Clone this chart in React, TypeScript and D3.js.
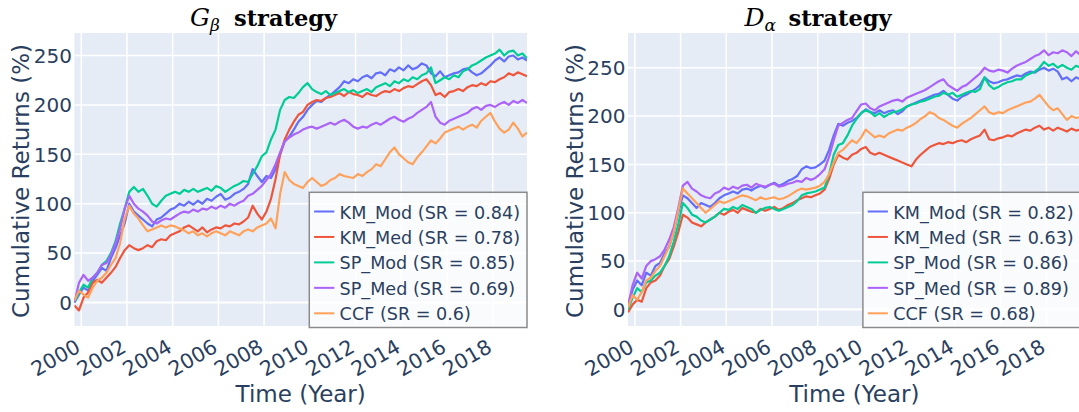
import React from 'react';
import * as d3 from 'd3';

// ---------- data ----------
const YEAR_START = 1999.7;
const YEAR_STEP = 0.2;
const xTickYears = [2000, 2002, 2004, 2006, 2008, 2010, 2012, 2014, 2016, 2018];
const yTickValues = [0, 50, 100, 150, 200, 250];

const seriesNames = ['KM_Mod', 'KM_Med', 'SP_Mod', 'SP_Med', 'CCF'];
const seriesColors = ['#636EFA', '#EF553B', '#00CC96', '#AB63FA', '#FFA15A'];
const gBetaSR = ['0.84', '0.78', '0.85', '0.69', '0.6'];
const dAlphaSR = ['0.82', '0.63', '0.86', '0.89', '0.68'];

// G_beta strategy
const gKMMod = [0, 8, 15, 12, 22, 28, 35, 32, 45, 55, 68, 80, 100, 92, 88, 84, 80, 77, 84, 86, 90, 94, 96, 100, 98, 102, 99, 103, 100, 105, 103, 107, 110, 104, 106, 110, 112, 115, 120, 135, 128, 122, 128, 126, 135, 150, 163, 168, 175, 183, 188, 195, 200, 204, 203, 207, 210, 214, 218, 224, 222, 226, 224, 228, 230, 227, 232, 233, 230, 236, 234, 238, 235, 240, 236, 238, 242, 240, 232, 229, 234, 228, 230, 232, 233, 236, 237, 233, 230, 232, 236, 240, 245, 248, 244, 249, 250, 246, 248, 245];
const gKMMed = [-3, -8, 5, 10, 20, 23, 20, 25, 30, 36, 45, 53, 58, 55, 53, 55, 58, 56, 62, 64, 63, 68, 70, 72, 76, 78, 75, 72, 76, 71, 74, 76, 75, 78, 77, 80, 79, 82, 86, 98, 90, 84, 92, 105, 125, 150, 165, 175, 183, 190, 193, 200, 203, 205, 204, 207, 208, 210, 212, 209, 213, 211, 210, 208, 212, 210, 209, 212, 214, 213, 216, 214, 217, 219, 218, 221, 224, 226, 220, 210, 212, 208, 213, 214, 216, 214, 218, 220, 219, 222, 220, 224, 223, 226, 228, 232, 230, 233, 231, 229];
const gSPMod = [0, 10, 18, 15, 25, 30, 38, 42, 50, 62, 80, 95, 112, 117, 112, 115, 108, 100, 97, 103, 108, 110, 112, 110, 114, 112, 115, 112, 114, 116, 113, 118, 116, 112, 115, 118, 120, 123, 122, 130, 138, 148, 152, 165, 175, 195, 205, 208, 207, 212, 218, 222, 216, 213, 211, 214, 210, 212, 214, 216, 213, 215, 212, 214, 216, 213, 218, 220, 222, 219, 224, 222, 226, 224, 228, 226, 230, 232, 238, 222, 225, 228, 226, 230, 228, 234, 236, 240, 242, 245, 248, 250, 252, 256, 250, 254, 255, 250, 252, 247];
const gSPMed = [0, 20, 28, 22, 25, 30, 38, 40, 48, 60, 75, 95, 108, 100, 95, 92, 88, 82, 80, 83, 85, 84, 87, 90, 92, 91, 94, 92, 95, 94, 97, 95, 98, 96, 100, 98, 101, 103, 108, 110, 114, 118, 124, 130, 140, 152, 163, 167, 170, 172, 175, 177, 178, 176, 178, 180, 182, 180, 183, 185, 182, 178, 176, 178, 177, 180, 182, 180, 183, 186, 188, 185, 183, 186, 188, 192, 195, 198, 203, 188, 182, 180, 184, 186, 188, 190, 192, 196, 198, 195, 199, 200, 198, 201, 203, 200, 204, 202, 205, 202];
const gCCF = [2, 12, 8, 5, 15, 22, 25, 30, 38, 45, 60, 85, 98, 90, 85, 78, 72, 74, 76, 78, 76, 78, 77, 75, 73, 70, 72, 68, 70, 67, 70, 72, 70, 68, 72, 70, 68, 72, 74, 72, 76, 78, 80, 85, 75, 110, 132, 124, 120, 118, 116, 122, 126, 122, 118, 120, 124, 126, 130, 128, 127, 126, 130, 128, 132, 135, 140, 138, 145, 152, 157, 150, 146, 142, 140, 147, 152, 158, 164, 161, 166, 172, 174, 176, 178, 175, 178, 180, 177, 184, 188, 192, 183, 176, 172, 175, 182, 176, 168, 172];

// D_alpha strategy
const dKMMod = [5, 20, 30, 25, 38, 35, 45, 48, 58, 65, 80, 100, 118, 115, 110, 105, 110, 108, 106, 110, 115, 118, 120, 122, 120, 124, 125, 123, 126, 128, 126, 129, 131, 128, 130, 133, 135, 138, 145, 148, 146, 147, 150, 154, 165, 180, 192, 190, 193, 195, 198, 203, 207, 204, 203, 206, 203, 205, 206, 202, 205, 210, 212, 214, 216, 218, 220, 222, 223, 226, 222, 218, 216, 220, 222, 225, 228, 232, 240, 236, 234, 235, 237, 238, 240, 242, 241, 244, 246, 245, 248, 250, 247, 249, 246, 238, 240, 236, 240, 238];
const dKMMed = [-3, 5, 10, 8, 22, 28, 30, 35, 45, 52, 65, 80, 98, 95, 90, 88, 86, 90, 93, 96, 100, 98, 101, 103, 100, 105, 103, 101, 100, 104, 102, 104, 106, 103, 105, 108, 110, 113, 115, 117, 116, 118, 120, 124, 135, 150, 160, 157, 155, 160, 162, 166, 168, 162, 160, 162, 160, 158, 156, 154, 152, 150, 148, 155, 160, 164, 168, 170, 172, 171, 173, 172, 174, 175, 173, 176, 178, 180, 186, 176, 175, 177, 178, 180, 179, 182, 184, 186, 185, 188, 190, 186, 188, 185, 188, 186, 184, 187, 185, 186];
const dSPMod = [0, 12, 22, 18, 28, 30, 35, 38, 45, 55, 70, 88, 110, 105, 98, 96, 92, 90, 93, 96, 100, 104, 103, 106, 104, 108, 106, 104, 100, 103, 105, 106, 104, 102, 104, 106, 108, 112, 118, 120, 121, 122, 124, 126, 140, 160, 170, 172, 180, 190, 197, 203, 206, 204, 200, 203, 199, 202, 204, 205, 207, 210, 212, 213, 215, 216, 218, 220, 221, 224, 222, 224, 220, 222, 224, 226, 225, 228, 240, 232, 228, 230, 233, 235, 236, 238, 238, 242, 244, 246, 250, 256, 252, 254, 250, 253, 250, 248, 252, 250];
const dSPMed = [3, 25, 38, 32, 45, 50, 52, 55, 62, 72, 85, 105, 128, 132, 125, 122, 118, 116, 115, 120, 122, 126, 124, 127, 125, 128, 129, 126, 130, 128, 127, 129, 130, 127, 128, 130, 131, 133, 132, 136, 134, 136, 140, 145, 158, 175, 190, 193, 196, 198, 205, 212, 213, 208, 206, 210, 212, 214, 216, 217, 215, 219, 221, 223, 225, 227, 230, 233, 236, 238, 232, 229, 226, 230, 232, 236, 240, 244, 250, 247, 246, 248, 247, 245, 249, 252, 254, 256, 259, 262, 264, 268, 263, 266, 265, 268, 266, 262, 267, 263];
const dCCF = [2, 15, 10, 18, 30, 33, 40, 45, 55, 65, 80, 102, 125, 120, 115, 110, 105, 100, 104, 108, 112, 110, 112, 114, 116, 118, 117, 115, 113, 116, 114, 115, 116, 114, 115, 117, 120, 123, 125, 124, 125, 126, 128, 132, 140, 152, 162, 165, 170, 175, 172, 178, 186, 182, 178, 180, 178, 182, 184, 186, 185, 188, 190, 193, 197, 200, 204, 202, 198, 196, 193, 190, 188, 192, 195, 198, 202, 206, 210, 204, 202, 204, 203, 206, 208, 210, 212, 214, 215, 218, 222, 216, 210, 206, 208, 202, 196, 200, 198, 199];

const gBetaSeries = [gKMMod, gKMMed, gSPMod, gSPMed, gCCF];
const dAlphaSeries = [dKMMod, dKMMed, dSPMod, dSPMed, dCCF];

// ---------- layout ----------
const W = 1079;
const H = 412;
const PLOT_TOP = 33;
const PLOT_BOTTOM = 326;
const TEXT = '#2a3f5f';
const SANS = '"DejaVu Sans", sans-serif';

interface PanelProps {
  id: string;
  left: number;
  right: number;
  yDomain: [number, number];
  series: number[][];
  sr: string[];
  titleMain: string;
  titleSub: string;
  titleX: number;
}

function Panel({ id, left, right, yDomain, series, sr, titleMain, titleSub, titleX }: PanelProps) {
  const x = d3.scaleLinear().domain([YEAR_START, YEAR_START + YEAR_STEP * (series[0].length - 1)]).range([left, right]);
  const y = d3.scaleLinear().domain(yDomain).range([PLOT_BOTTOM, PLOT_TOP]);
  const line = d3
    .line<number>()
    .x((_, i) => x(YEAR_START + i * YEAR_STEP))
    .y((d) => y(d));
  const width = right - left;
  const legendW = 217.7;
  const legendX = right - legendW;
  const legendY = 192.3;
  const legendH = PLOT_BOTTOM + 1.5 - legendY;
  const rowGap = 25.45;
  const firstBaseline = 218.5;
  return (
    <g>
      <defs>
        <clipPath id={`clip-${id}`}>
          <rect x={left} y={PLOT_TOP} width={width} height={PLOT_BOTTOM - PLOT_TOP} />
        </clipPath>
      </defs>
      <rect x={left} y={PLOT_TOP} width={width} height={PLOT_BOTTOM - PLOT_TOP} fill="#E5ECF6" />
      {xTickYears.map((t) => (
        <line key={`gx${t}`} x1={x(t)} x2={x(t)} y1={PLOT_TOP} y2={PLOT_BOTTOM} stroke="#fff" strokeWidth={1.5} />
      ))}
      {yTickValues.map((v) => (
        <line key={`gy${v}`} x1={left} x2={right} y1={y(v)} y2={y(v)} stroke="#fff" strokeWidth={v === 0 ? 2.2 : 1.5} />
      ))}
      <g clipPath={`url(#clip-${id})`}>
        {series.map((s, k) => (
          <path key={k} d={line(s) || ''} fill="none" stroke={seriesColors[k]} strokeWidth={2.2} strokeLinejoin="round" />
        ))}
      </g>
      {/* y ticks */}
      {yTickValues.map((v) => (
        <text key={`ty${v}`} x={left - 2.5} y={y(v)} dy="0.36em" textAnchor="end" fontFamily={SANS} fontSize={20} fill={TEXT}>
          {v}
        </text>
      ))}
      {/* x ticks */}
      {xTickYears.map((t) => (
        <text
          key={`tx${t}`}
          transform={`translate(${x(t) + 0.5},${351}) rotate(-30)`}
          textAnchor="end"
          fontFamily={SANS}
          fontSize={20.5}
          fill={TEXT}
        >
          {t}
        </text>
      ))}
      {/* axis titles */}
      <text x={(left + right) / 2} y={402} textAnchor="middle" fontFamily={SANS} fontSize={23} fill={TEXT}>
        Time (Year)
      </text>
      <text
        transform={`translate(${left - 45},${181}) rotate(-90)`}
        textAnchor="middle"
        fontFamily={SANS}
        fontSize={23}
        fill={TEXT}
      >
        Cumulative Returns (%)
      </text>
      {/* title */}
      <text x={titleX} y={26} fontFamily='"DejaVu Serif", serif' fill="#000">
        <tspan fontStyle="italic" fontSize={25}>{titleMain}</tspan>
        <tspan fontStyle="italic" fontSize={17} dy={5}>{titleSub}</tspan>
        <tspan x={titleX + 44} dy={-5} fontWeight="bold" fontSize={22.5}>strategy</tspan>
      </text>
      {/* legend */}
      <rect x={legendX} y={legendY} width={legendW} height={legendH} fill="rgba(255,255,255,0.8)" stroke="#8a8a8a" strokeWidth={1.5} />
      {seriesNames.map((name, k) => {
        const by = firstBaseline + k * rowGap;
        return (
          <g key={name}>
            <line x1={legendX + 4.8} x2={legendX + 25} y1={by - 7} y2={by - 7} stroke={seriesColors[k]} strokeWidth={2} />
            <text x={legendX + 30.3} y={by} fontFamily={SANS} fontSize={17.6} fill={TEXT}>
              {`${name} (SR = ${sr[k]})`}
            </text>
          </g>
        );
      })}
    </g>
  );
}

export default function App() {
  return (
    <div style={{ position: 'absolute', left: 0, top: 0 }}>
      <svg width={W} height={H} style={{ display: 'block', background: '#fff' }}>
        <Panel
          id="gbeta"
          left={74.4}
          right={527}
          yDomain={[-23.8, 272.8]}
          series={gBetaSeries}
          sr={gBetaSR}
          titleMain="G"
          titleSub="β"
          titleX={190}
        />
        <Panel
          id="dalpha"
          left={628}
          right={1080.6}
          yDomain={[-17.1, 285.9]}
          series={dAlphaSeries}
          sr={dAlphaSR}
          titleMain="D"
          titleSub="α"
          titleX={744.5}
        />
      </svg>
    </div>
  );
}
